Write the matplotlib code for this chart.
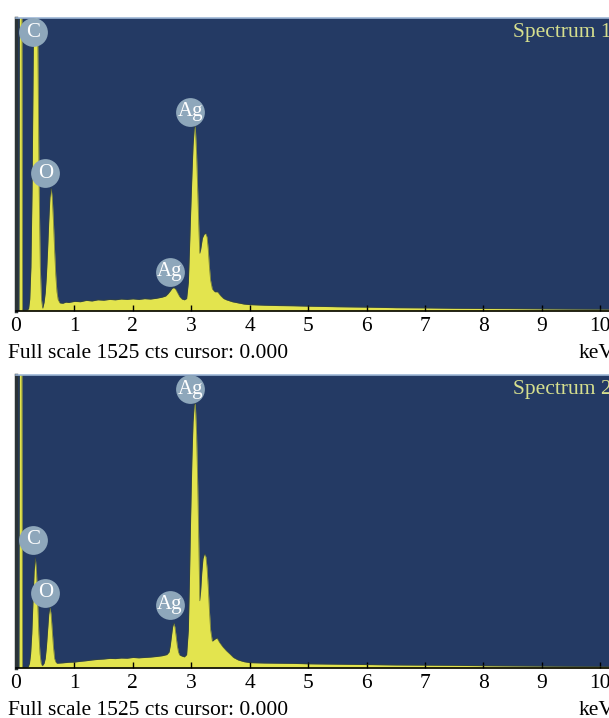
import matplotlib.pyplot as plt

# energy (keV) and counts
energy_1 = [0.00, 0.05, 0.06, 0.10, 0.11, 0.19, 0.215, 0.235, 0.255, 0.275, 0.295, 0.315, 0.335,
            0.355, 0.375, 0.395, 0.415, 0.435, 0.455, 0.48, 0.50, 0.52, 0.54, 0.56, 0.58, 0.60,
            0.62, 0.64, 0.66, 0.68, 0.70, 0.72, 0.75, 0.80, 0.85, 0.90, 0.95, 1.00, 1.10, 1.20,
            1.30, 1.40, 1.50, 1.60, 1.70, 1.80, 1.90, 2.00, 2.10, 2.20, 2.30, 2.40, 2.50, 2.56,
            2.60, 2.64, 2.67, 2.70, 2.73, 2.76, 2.80, 2.84, 2.88, 2.92, 2.95, 2.97, 2.99, 3.01,
            3.03, 3.05, 3.06, 3.07, 3.09, 3.11, 3.13, 3.145, 3.16, 3.19, 3.22, 3.245, 3.27, 3.29,
            3.31, 3.33, 3.36, 3.40, 3.45, 3.50, 3.55, 3.60, 3.70, 3.80, 3.90,
            4.00, 4.25, 4.50, 4.75, 5.00, 5.50, 6.00, 6.50, 7.00, 7.50, 8.00, 8.50, 9.00, 9.50,
            10.15]
counts_1 = [0, 0, 1700, 1700, 5, 6, 12, 62, 229, 636, 1322, 2048, 2370,
            2048, 1322, 636, 229, 62, 14, 45, 95, 185, 315, 465, 591, 640,
            591, 465, 315, 185, 100, 60, 42, 40, 46, 44, 47, 50, 48, 55,
            52, 58, 56, 60, 58, 62, 60, 63, 60, 64, 62, 66, 72, 78,
            90, 105, 118, 122, 115, 98, 75, 62, 58, 65, 150, 330, 520, 700,
            860, 950, 965, 950, 820, 620, 420, 300, 320, 380, 400, 405, 385, 320,
            230, 160, 115, 100, 100, 80, 65, 58, 48, 42, 36,
            33, 30, 28, 27, 25, 22, 20, 17, 16, 14, 13, 12, 11, 10,
            9]

energy_2 = [0.00, 0.05, 0.06, 0.10, 0.11, 0.19, 0.21, 0.23, 0.25, 0.27, 0.29, 0.31, 0.33,
            0.35, 0.37, 0.39, 0.41, 0.43, 0.45, 0.48, 0.50, 0.52, 0.54, 0.56, 0.58, 0.60,
            0.62, 0.64, 0.66, 0.68, 0.70, 0.80, 0.90, 1.00, 1.10, 1.20, 1.30, 1.40, 1.50,
            1.60, 1.70, 1.80, 1.90, 2.00, 2.10, 2.20, 2.30, 2.40, 2.50, 2.58, 2.62, 2.64,
            2.66, 2.68, 2.70, 2.72, 2.74, 2.76, 2.78, 2.80, 2.84, 2.88, 2.92, 2.95, 2.97,
            2.99, 3.01, 3.03, 3.05, 3.06, 3.07, 3.09, 3.11, 3.13, 3.145, 3.16, 3.18, 3.20,
            3.225, 3.25, 3.27, 3.29, 3.31, 3.33, 3.36, 3.40, 3.44, 3.48, 3.54, 3.60,
            3.66, 3.72, 3.80, 3.90, 4.00, 4.25, 4.50, 4.75, 5.00, 5.50, 6.00, 6.50, 7.00,
            7.50, 8.00, 8.50, 9.00, 9.50, 10.15]
counts_2 = [0, 0, 1700, 1700, 5, 5, 8, 25, 75, 180, 345, 505, 575,
            505, 345, 180, 75, 25, 12, 25, 50, 110, 195, 280, 318, 280,
            195, 110, 50, 32, 25, 27, 30, 31, 35, 38, 42, 45, 47,
            50, 49, 52, 51, 55, 53, 55, 57, 60, 64, 70, 84, 117,
            166, 214, 235, 214, 166, 117, 84, 68, 62, 58, 70, 200, 480,
            800, 1080, 1280, 1370, 1380, 1370, 1220, 950, 620, 350, 400, 500, 570,
            595, 580, 520, 420, 300, 200, 140, 150, 157, 135, 110, 90,
            73, 55, 42, 33, 28, 26, 25, 24, 22, 20, 18, 16, 15,
            14, 12, 11, 10, 9, 8]

# element labels: name, energy, counts where the marker sits
labels_1 = ["C", "O", "Ag", "Ag"]
label_e_1 = [0.29, 0.50, 2.98, 2.63]
label_c_1 = [1452, 718, 1036, 203]
labels_2 = ["Ag", "C", "O", "Ag"]
label_e_2 = [2.98, 0.29, 0.50, 2.63]
label_c_2 = [1452, 668, 392, 329]

spectra = ["Spectrum 1", "Spectrum 2"]
full_scale = 1525
xticks = list(range(11))

NAVY = "#243a64"
YELLOW = "#e3e44e"
EDGE = "#3d4a2e"
BADGE = "#8ea7bb"
FS = 15.5

plt.rcParams['font.family'] = ['Liberation Serif', 'DejaVu Serif']

fig = plt.figure(figsize=[6.09, 7.18], dpi=100)

panels = [(energy_1, counts_1, labels_1, label_e_1, label_c_1, 0.5669),
          (energy_2, counts_2, labels_2, label_e_2, label_c_2, 0.0696)]

for i, (e, c, lab, le, lc, bottom) in enumerate(panels):
    ax = fig.add_axes([0.0263, bottom, 0.9737, 0.408])
    ax.set_facecolor(NAVY)
    ax.fill_between(e, 0, c, color=YELLOW, lw=0)
    ax.plot(e, c, color=EDGE, lw=0.5, alpha=0.7)
    ax.set_xlim(0, 10.15)
    ax.set_ylim(0, full_scale)
    ax.set_yticks([])
    ax.set_xticks(xticks)
    ax.set_xticklabels([str(t) for t in xticks])
    ax.tick_params(axis='x', direction='in', length=4, width=1, color='black',
                   pad=4, labelsize=FS)
    ax.spines['bottom'].set_color('black')
    ax.spines['bottom'].set_linewidth(1.2)
    ax.spines['left'].set_color('#2b3335')
    ax.spines['left'].set_linewidth(2.5)
    ax.spines['top'].set_color('#9db6d6')
    ax.spines['top'].set_linewidth(1.2)
    ax.spines['right'].set_visible(False)

    ax.scatter(le, lc, s=430, color=BADGE, zorder=5, clip_on=False, lw=0)
    for name, x, y in zip(lab, le, lc):
        ax.text(x, y, name, color='white', fontsize=15, ha='center', va='center',
                zorder=6)

    ax.text(0.838, 0.95, spectra[i], transform=ax.transAxes, color='#d6df8e',
            fontsize=FS, ha='left', va='center', clip_on=False)
    ax.text(-0.014, -0.145, "Full scale %d cts cursor: 0.000" % full_scale,
            transform=ax.transAxes, fontsize=FS, ha='left', va='center')
    ax.text(0.948, -0.145, "keV", transform=ax.transAxes, fontsize=FS,
            ha='left', va='center')

fig.savefig("out.png", dpi=100, facecolor='white')
